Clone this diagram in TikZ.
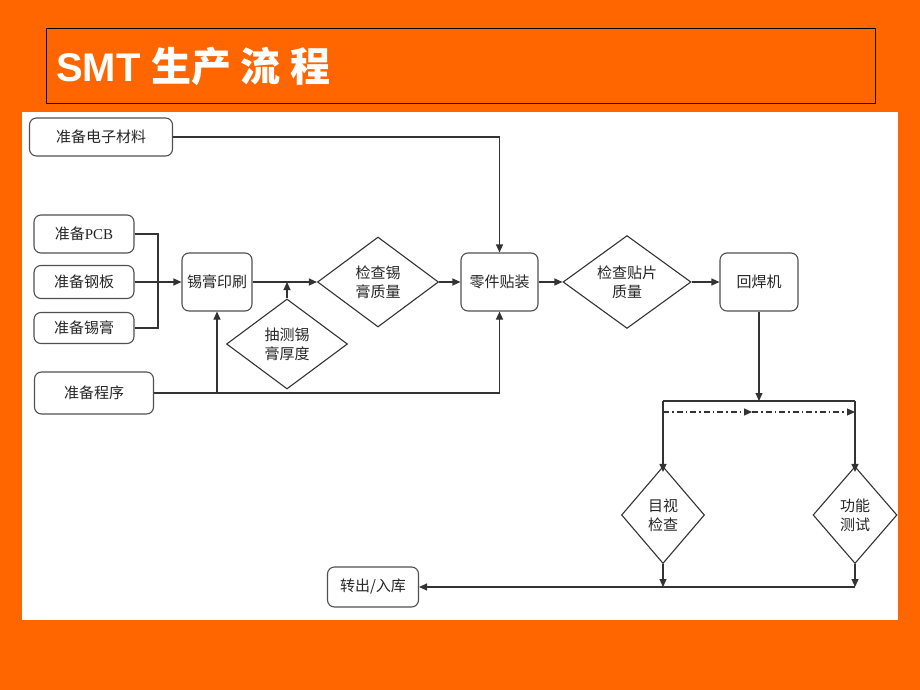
\documentclass[tikz,border=0pt]{standalone}
\usepackage{fontspec}
\setmainfont{Liberation Sans}
\newfontfamily\cjk{Noto Sans CJK SC}
\newfontfamily\serifpcb{Liberation Serif}
\usetikzlibrary{shapes.geometric,arrows.meta}
\definecolor{bgorange}{HTML}{FF6600}
\definecolor{linegray}{HTML}{333333}
\definecolor{boxgray}{HTML}{505050}
\tikzset{
  box/.style={draw=boxgray, line width=1.1pt, rounded corners=7pt, fill=white,
    align=center, inner sep=0pt, text=black!85, font=\cjk\fontsize{15}{19}\selectfont},
  dia/.style={draw=linegray, line width=1.1pt, diamond, fill=white, align=center,
    inner sep=0pt, text=black!85, font=\cjk\fontsize{15}{19}\selectfont},
  conn/.style={draw=linegray, line width=1.1pt},
  arr/.style={conn, -{Triangle[length=8pt,width=7pt]}},
  dashdotline/.style={conn, dash pattern=on 6pt off 3pt on 1.5pt off 3pt}
}
\begin{document}
\begin{tikzpicture}[x=1pt,y=-1pt]
\useasboundingbox (0,0) rectangle (920,690);
\fill[bgorange] (0,0) rectangle (920,690);
% title
\draw[black, line width=0.8pt, fill=bgorange] (46,28) rectangle (875,103);
\node[anchor=west, text=white, inner sep=0pt, font=\bfseries\fontsize{40}{48}\selectfont] (title) at (56,66)
  {SMT {\cjk\bfseries 生产 流 程}};
% white panel
\fill[white] (22,112) rectangle (898,620);

% nodes
\node[box, minimum width=143pt, minimum height=38pt] (elec) at (101,137) {准备电子材料};
\node[box, minimum width=100pt, minimum height=38pt] (pcb) at (84,234) {准备{\serifpcb PCB}};
\node[box, minimum width=100pt, minimum height=33pt] (steel) at (84,282) {准备钢板};
\node[box, minimum width=100pt, minimum height=31pt] (paste) at (84,328) {准备锡膏};
\node[box, minimum width=119pt, minimum height=42pt] (prog) at (94,393) {准备程序};
\node[box, minimum width=70pt, minimum height=58pt] (print) at (217,282) {锡膏印刷};
\node[dia, minimum width=121pt, minimum height=90pt] (thick) at (287,344) {抽测锡\\膏厚度};
\node[dia, minimum width=121pt, minimum height=90pt] (chk1) at (378,282) {检查锡\\膏质量};
\node[box, minimum width=77pt, minimum height=58pt] (place) at (499.5,282) {零件贴装};
\node[dia, minimum width=128pt, minimum height=90pt] (chk2) at (627,282) {检查贴片\\质量};
\node[box, minimum width=78pt, minimum height=58pt] (reflow) at (759,282) {回焊机};
\node[dia, minimum width=83pt, minimum height=97pt] (vis) at (663,515) {目视\\检查};
\node[dia, minimum width=84pt, minimum height=97pt] (func) at (855,515) {功能\\测试};
\node[box, minimum width=91pt, minimum height=40pt] (out) at (373,587) {转出/入库};

% junction coordinates
\coordinate (j1) at (158,282);
\coordinate (split) at (759,401);
\coordinate (dd) at (663,412);
\coordinate (ddm) at (752,412);

% connectors
\draw[arr] (elec.east) -| (place.north);
\draw[conn] (pcb.east) -| (j1) |- (paste.east);
\draw[arr] (steel.east) -- (print.west);
\draw[arr] (prog.east) -| (place.south);
\draw[arr] (prog.east -| print.south) -- (print.south);
\draw[arr] (print.east) -- (chk1.west);
\draw[arr] (thick.north) -- (thick.north |- print.east);
\draw[arr] (chk1.east) -- (place.west);
\draw[arr] (place.east) -- (chk2.west);
\draw[arr] (chk2.east) -- (reflow.west);
\draw[arr] (reflow.south) -- (split);
\draw[conn] (vis.north |- split) -- (func.north |- split);
\draw[arr] (vis.north |- split) -- ([yshift=-6pt]vis.north);
\draw[arr] (func.north |- split) -- ([yshift=-6pt]func.north);
\draw[dashdotline, -{Triangle[length=8pt,width=7pt]}] (vis.north |- dd) -- (ddm);
\draw[dashdotline, -{Triangle[length=8pt,width=7pt]}] (ddm) -- (func.north |- dd);
\draw[arr] (vis.south) -- (vis.south |- out.east);
\draw[arr] (func.south) -- (func.south |- out.east);
\draw[arr] (func.south |- out.east) -- (out.east);
\end{tikzpicture}
\end{document}
